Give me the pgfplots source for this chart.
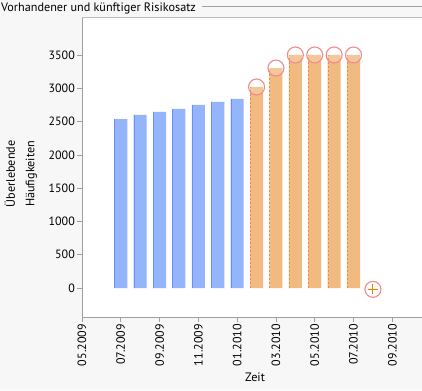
\documentclass[border=0pt]{standalone}
\usepackage{pgfplots}
\pgfplotsset{compat=1.18}
\usepackage{fontspec}
\setmainfont{PT Sans}
\definecolor{bg}{HTML}{F7F7F7}
\definecolor{axgray}{HTML}{A0A0A0}
\definecolor{barblue}{HTML}{94B4FB}
\definecolor{edgeblue}{HTML}{6A90F2}
\definecolor{barorange}{HTML}{F0BA80}
\definecolor{edgeorange}{HTML}{F0873C}
\definecolor{circred}{HTML}{F08A8C}
\definecolor{plusorange}{HTML}{F08000}
\begin{document}
\begin{tikzpicture}[x=1pt,y=1pt]
\fill[bg] (0,0) rectangle (422,390);
\useasboundingbox (0,0) rectangle (422,390);
\node[anchor=base west, inner sep=0pt, font=\fontsize{12.2}{14}\selectfont] at (1,378.5) {Vorhandener und künftiger Risikosatz};
\draw[axgray, line width=0.8pt] (202,383.5) -- (422,383.5);
\begin{axis}[
  at={(82pt,73pt)}, anchor=south west,
  scale only axis, width=340pt, height=300pt,
  xmin=0, xmax=17.53, ymin=-436, ymax=4075,
  axis background/.style={fill=white},
  axis x line*=bottom, axis y line*=left,
  axis line style={axgray, line width=0.8pt},
  tick align=outside, major tick length=5pt,
  tick style={axgray, line width=0.8pt},
  xtick={0,2,4,6,8,10,12,14,16},
  xticklabels={05.2009,07.2009,09.2009,11.2009,01.2010,03.2010,05.2010,07.2010,09.2010},
  xticklabel style={rotate=90, anchor=east, inner sep=2pt},
  ytick={0,500,1000,1500,2000,2500,3000,3500},
  yticklabel style={inner sep=2pt},
  ticklabel style={font=\fontsize{12}{14}\selectfont},
  /pgf/number format/assume math mode=true,
  /pgf/number format/1000 sep={},
  xlabel={Zeit},
  xlabel style={at={(axis description cs:0.509,-0.2)}, anchor=center, font=\fontsize{12.2}{14}\selectfont},
  ylabel={Überlebende\\Häufigkeiten},
  ylabel style={at={(axis description cs:-0.18,0.477)}, anchor=center, align=center, font=\fontsize{12.2}{19.5}\selectfont},
  clip=false,
]
\draw[axgray!70, line width=0.8pt] (rel axis cs:0,1) -- (rel axis cs:1,1);
% blue bars (existing)
\addplot[ybar, bar width=13pt, bar shift=0pt, fill=barblue, draw=none]
  coordinates {(2,2541) (3,2602) (4,2647) (5,2692) (6,2752) (7,2797) (8,2842)};
\addplot[ycomb, edgeblue, line width=1pt, xshift=-6pt]
  coordinates {(2,2541) (3,2602) (4,2647) (5,2692) (6,2752) (7,2797) (8,2842)};
% orange bars (future)
\addplot[ybar, bar width=13pt, bar shift=0pt, fill=barorange, draw=none]
  coordinates {(9,3023) (10,3308) (11,3504) (12,3504) (13,3504) (14,3504)};
\addplot[ycomb, edgeorange, line width=1pt, dash pattern=on 2pt off 2pt, xshift=-6pt]
  coordinates {(9,3023) (10,3308) (11,3504) (12,3504) (13,3504) (14,3504)};
% circles
\addplot[only marks, mark=*, mark size=8pt, mark options={draw=circred, line width=1.1pt, fill=white, fill opacity=0.2}]
  coordinates {(9,3023) (10,3308) (11,3504) (12,3504) (13,3504) (14,3504)};
\addplot[only marks, mark=o, mark size=8pt, mark options={draw=circred, line width=1.1pt}]
  coordinates {(15,-20)};
\addplot[only marks, mark=+, mark size=5pt, mark options={draw=plusorange, line width=1.1pt}]
  coordinates {(15,-20)};
\end{axis}
\end{tikzpicture}
\end{document}
